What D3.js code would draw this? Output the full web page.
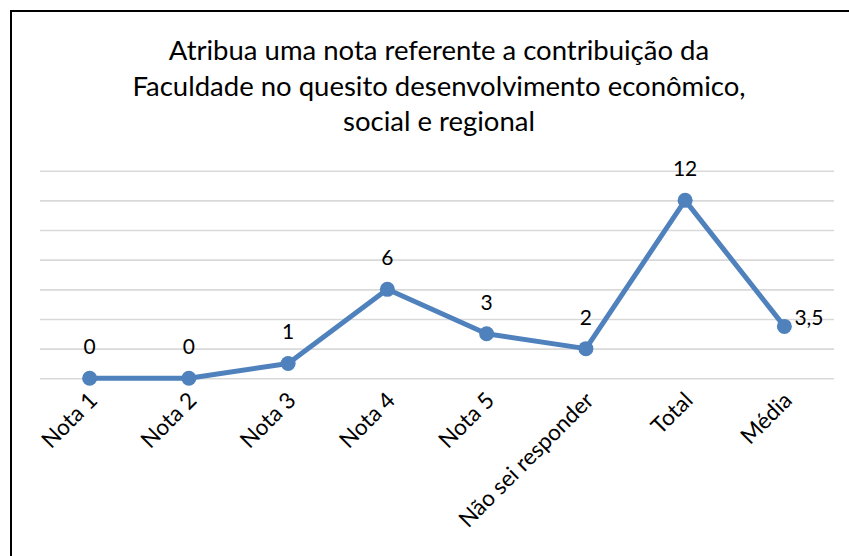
<!DOCTYPE html>
<html>
<head>
<meta charset="utf-8">
<script src="https://cdn.jsdelivr.net/npm/d3@7"></script>
<style>
  html, body { margin: 0; padding: 0; background: #fff; }
  svg { display: block; }
</style>
</head>
<body>
<svg id="chart" width="849" height="556"></svg>
<script>
// Survey answers: count per grade, plus the total and the average
const categories = ["Nota 1", "Nota 2", "Nota 3", "Nota 4", "Nota 5", "Não sei responder", "Total", "Média"];
const values = [0, 0, 1, 6, 3, 2, 12, 3.5];
const valueLabels = ["0", "0", "1", "6", "3", "2", "12", "3,5"];
const yTicks = [0, 2, 4, 6, 8, 10, 12, 14];
const titleLines = [
  "Atribua uma nota referente a contribuição da",
  "Faculdade no quesito desenvolvimento econômico,",
  "social e regional"
];

const W = 849, H = 556;
const svg = d3.select("#chart");
const font = "Lato, 'Open Sans', sans-serif";
const blue = "#4f81bd";

// Outer frame (only the left and top edges fall inside the page)
svg.append("rect")
  .attr("x", 11).attr("y", 11)
  .attr("width", W + 20).attr("height", H + 20)
  .attr("fill", "#fff")
  .attr("stroke", "#000").attr("stroke-width", 2);

// Title
const title = svg.append("text")
  .attr("text-anchor", "middle")
  .attr("font-family", font)
  .attr("font-size", 27.5)
  .attr("fill", "#000");
titleLines.forEach((t, i) => {
  title.append("tspan").attr("x", 439).attr("y", 60 + i * 35.5).text(t);
});

// Scales
const x = d3.scalePoint().domain(categories).range([40, 834]).padding(0.5);
const y = d3.scaleLinear().domain([0, 14]).range([378.3, 170.7]);

// Horizontal gridlines
const yAxis = d3.axisLeft(y).tickValues(yTicks).tickSize(-(834 - 40)).tickFormat("");
const gy = svg.append("g").attr("transform", "translate(40,0)").call(yAxis);
gy.select(".domain").remove();
gy.selectAll(".tick line").attr("stroke", "#d9d9d9").attr("stroke-width", 1.6);

// Category labels, rotated
const xAxis = d3.axisBottom(x).tickSize(0).tickPadding(0);
const gx = svg.append("g")
  .attr("transform", "translate(0,378.3)")
  .call(xAxis);
gx.attr("font-family", font).attr("font-size", 22.5);
gx.select(".domain").remove();
gx.selectAll(".tick text")
  .attr("fill", "#000")
  .attr("text-anchor", "end")
  .attr("dy", "0.35em")
  .attr("transform", "translate(3,18) rotate(-45)")
  .attr("y", 0).attr("x", 0);

// Series line
const data = categories.map((c, i) => ({ c, v: values[i], label: valueLabels[i] }));
svg.append("path")
  .datum(data)
  .attr("fill", "none")
  .attr("stroke", blue)
  .attr("stroke-width", 5)
  .attr("stroke-linejoin", "round")
  .attr("d", d3.line().x(d => x(d.c)).y(d => y(d.v)));

// Markers
svg.selectAll("circle.pt")
  .data(data)
  .join("circle")
  .attr("class", "pt")
  .attr("cx", d => x(d.c))
  .attr("cy", d => y(d.v))
  .attr("r", 7.5)
  .attr("fill", blue);

// Value labels (the last one sits to the right of its marker)
svg.selectAll("text.val")
  .data(data)
  .join("text")
  .attr("class", "val")
  .attr("font-family", font)
  .attr("font-size", 21)
  .attr("fill", "#000")
  .attr("text-anchor", (d, i) => i === data.length - 1 ? "start" : "middle")
  .attr("x", (d, i) => i === data.length - 1 ? x(d.c) + 10 : x(d.c))
  .attr("y", (d, i) => i === data.length - 1 ? y(d.v) - 1 : y(d.v) - 24)
  .text(d => d.label);
</script>
</body>
</html>
